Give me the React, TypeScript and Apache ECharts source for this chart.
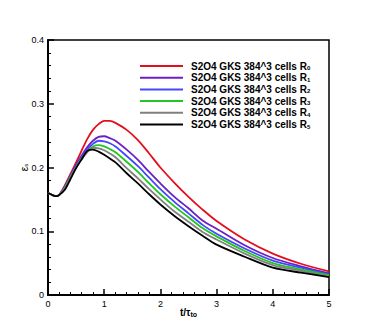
import React, { useEffect, useRef } from "react";
import * as echarts from "echarts";

const times = [0, 0.1, 0.15, 0.2, 0.3, 0.4, 0.5, 0.6, 0.7, 0.8, 0.9, 1.0, 1.1, 1.2, 1.4, 1.6, 1.8, 2.0, 2.25, 2.5, 2.75, 3.0, 3.5, 4.0, 4.5, 5.0];

const r0 = [0.160, 0.156, 0.155, 0.157, 0.172, 0.190, 0.208, 0.227, 0.245, 0.259, 0.268, 0.273, 0.273, 0.270, 0.259, 0.243, 0.222, 0.200, 0.176, 0.154, 0.134, 0.116, 0.087, 0.065, 0.049, 0.037];
const r1 = [0.160, 0.156, 0.155, 0.157, 0.170, 0.187, 0.204, 0.219, 0.232, 0.242, 0.248, 0.249, 0.246, 0.242, 0.228, 0.212, 0.193, 0.175, 0.154, 0.136, 0.117, 0.104, 0.078, 0.058, 0.045, 0.034];
const r2 = [0.160, 0.156, 0.155, 0.157, 0.169, 0.186, 0.202, 0.216, 0.228, 0.237, 0.242, 0.241, 0.238, 0.233, 0.218, 0.202, 0.184, 0.166, 0.146, 0.128, 0.110, 0.096, 0.073, 0.054, 0.043, 0.032];
const r3 = [0.160, 0.156, 0.155, 0.157, 0.168, 0.185, 0.200, 0.214, 0.225, 0.233, 0.235, 0.233, 0.229, 0.224, 0.209, 0.193, 0.175, 0.158, 0.139, 0.122, 0.105, 0.092, 0.069, 0.050, 0.040, 0.031];
const r4 = [0.160, 0.156, 0.155, 0.157, 0.167, 0.184, 0.200, 0.213, 0.224, 0.231, 0.230, 0.227, 0.222, 0.216, 0.199, 0.183, 0.166, 0.150, 0.131, 0.115, 0.099, 0.087, 0.065, 0.047, 0.038, 0.029];
const r5 = [0.160, 0.156, 0.155, 0.157, 0.165, 0.182, 0.199, 0.213, 0.226, 0.228, 0.225, 0.220, 0.214, 0.208, 0.191, 0.175, 0.158, 0.142, 0.124, 0.108, 0.093, 0.079, 0.060, 0.043, 0.035, 0.028];

const seriesValues = [r0, r1, r2, r3, r4, r5];
const seriesNames = ["R0", "R1", "R2", "R3", "R4", "R5"];
const seriesSubs = ["0", "1", "2", "3", "4", "5"];
const seriesColors = ["#e3101c", "#6a1fc8", "#4646ff", "#1ec81e", "#808080", "#000000"];

const FONT = "'Liberation Sans', Arial, Helvetica, sans-serif";

export default function App() {
  const ref = useRef<HTMLDivElement>(null);
  useEffect(() => {
    if (!ref.current) return;
    const chart = echarts.init(ref.current, null, { renderer: "svg" });
    const option = {
      animation: false,
      backgroundColor: "#ffffff",
      grid: {
        left: 48,
        right: 45,
        top: 40,
        bottom: 37,
        show: true,
        borderColor: "#000",
        borderWidth: 1.5,
        backgroundColor: "transparent",
      },
      legend: {
        orient: "vertical",
        left: 140,
        top: 61,
        padding: 0,
        itemWidth: 43,
        itemHeight: 2,
        itemGap: 1.7,
        icon: "rect",
        data: seriesNames,
        formatter: (name: string) => {
          const i = seriesNames.indexOf(name);
          return "{m|S2O4 GKS 384^3 cells R}{s|" + seriesSubs[i] + "}";
        },
        textStyle: {
          padding: [0, 0, 0, 3],
          rich: {
            m: { fontFamily: FONT, fontSize: 10, fontWeight: "bold", color: "#000", lineHeight: 10 },
            s: { fontFamily: FONT, fontSize: 6, fontWeight: "bold", color: "#000", lineHeight: 4, verticalAlign: "bottom" },
          },
        },
      },
      xAxis: {
        type: "value",
        min: 0,
        max: 5,
        interval: 1,
        name: "{m|t/τ}{s|to}",
        nameLocation: "middle",
        nameGap: 11,
        nameMoveOverlap: false,
        nameTextStyle: {
          verticalAlign: "top",
          rich: {
            m: { fontFamily: FONT, fontSize: 10, fontWeight: "bold", color: "#000", lineHeight: 12 },
            s: { fontFamily: FONT, fontSize: 7, fontWeight: "bold", color: "#000", lineHeight: 5, verticalAlign: "bottom" },
          },
        },
        axisLine: { show: true, lineStyle: { color: "#000", width: 2 } },
        axisTick: { show: true, inside: true, length: 6, lineStyle: { color: "#000", width: 1.5 } },
        minorTick: { show: true, splitNumber: 5, length: 3, lineStyle: { color: "#000", width: 1 } },
        splitLine: { show: false },
        axisLabel: { fontFamily: FONT, fontSize: 9, color: "#000", margin: 4 },
      },
      yAxis: {
        type: "value",
        min: 0,
        max: 0.4,
        interval: 0.1,
        name: "{m|ε}{s|s}",
        nameLocation: "middle",
        nameGap: 19,
        nameMoveOverlap: false,
        nameRotate: 90,
        nameTextStyle: {
          rich: {
            m: { fontFamily: FONT, fontSize: 10, color: "#000", lineHeight: 10 },
            s: { fontFamily: FONT, fontSize: 6, color: "#000", lineHeight: 4, verticalAlign: "bottom" },
          },
        },
        axisLine: { show: true, lineStyle: { color: "#000", width: 2 } },
        axisTick: { show: true, inside: true, length: 6, lineStyle: { color: "#000", width: 1.5 } },
        minorTick: { show: true, splitNumber: 5, length: 3, lineStyle: { color: "#000", width: 1 } },
        splitLine: { show: false },
        axisLabel: { fontFamily: FONT, fontSize: 9, color: "#000", margin: 4 },
      },
      series: seriesValues.map((vals, i) => ({
        name: seriesNames[i],
        type: "line",
        data: times.map((t, j) => [t, vals[j]]),
        smooth: 0.3,
        showSymbol: false,
        symbol: "none",
        lineStyle: { color: seriesColors[i], width: 1.8 },
        itemStyle: { color: seriesColors[i] },
      })),
    };
    chart.setOption(option as any);
    return () => chart.dispose();
  }, []);
  return (
    <div
      ref={ref}
      style={{ position: "absolute", left: 0, top: 0, width: 374, height: 332 }}
    />
  );
}
